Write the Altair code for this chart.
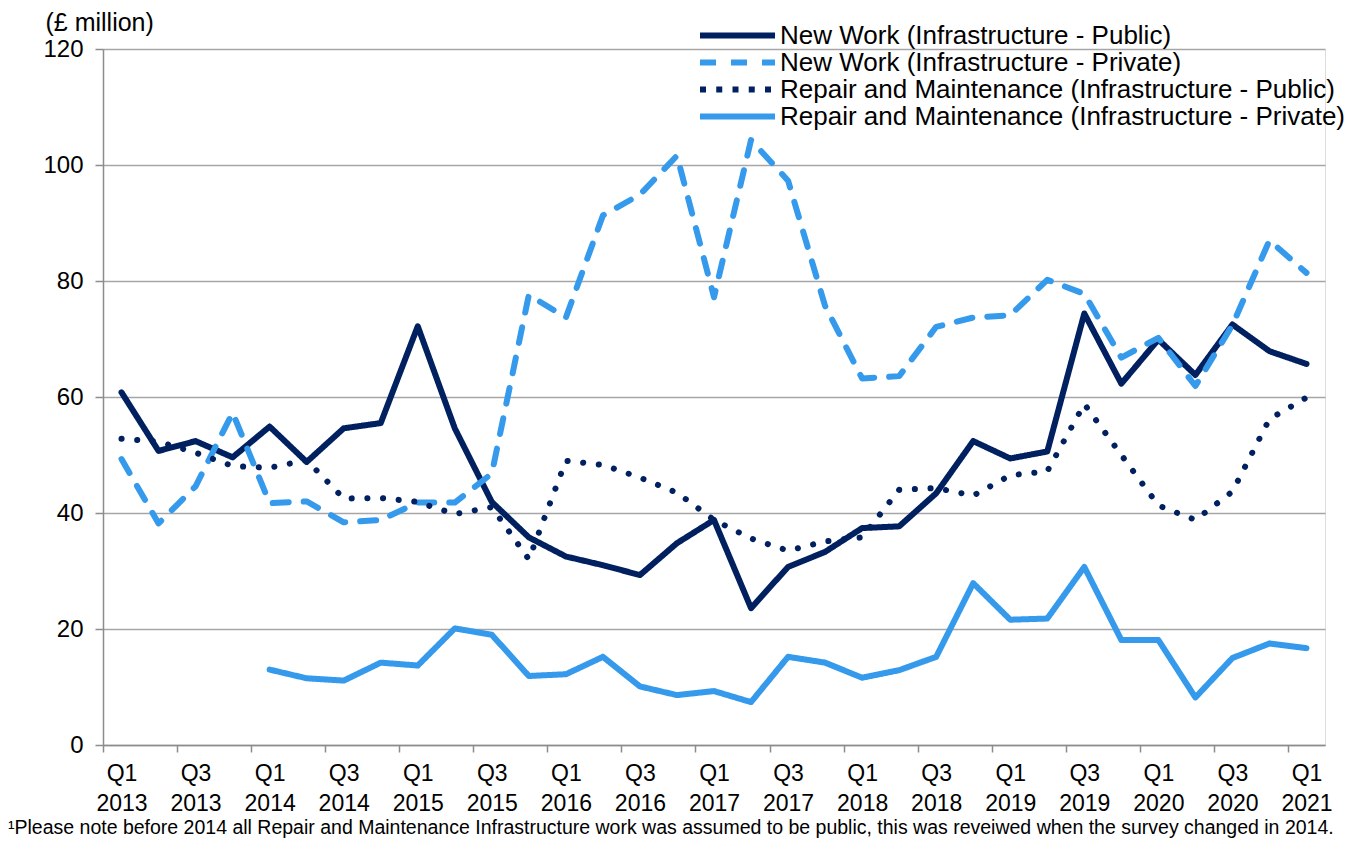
import json
import altair as alt
import pandas as pd

SERIES = [
    "New Work (Infrastructure - Public)",
    "New Work (Infrastructure - Private)",
    "Repair and Maintenance (Infrastructure - Public)",
    "Repair and Maintenance (Infrastructure - Private)",
]
COLORS = ["#002060", "#359AEC", "#002060", "#359AEC"]
# dash patterns used by the legend symbols (the dotted series is drawn in its own layer)
LEGEND_DASHES = [[1, 0], [17, 12], [6, 10.25], [1, 0]]
PLOT_DASH_NW_PRIVATE = [16, 15]
PLOT_DASH_DOTTED = [0.1, 15.6]

# Q1 2013 ... Q1 2021 (33 quarters)
NW_PUBLIC = [60.8, 50.7, 52.4, 49.6, 54.9, 48.8, 54.6, 55.5, 72.2, 54.6,
             41.9, 35.8, 32.5, 31.0, 29.3, 34.8, 38.8, 23.6, 30.7, 33.3,
             37.4, 37.7, 43.4, 52.4, 49.4, 50.6, 74.4, 62.3, 69.9, 63.8,
             72.5, 67.9, 65.7]
NW_PRIVATE = [49.3, 38.2, 44.6, 57.3, 41.7, 42.0, 38.4, 38.8, 41.8, 41.8,
              46.8, 77.6, 73.7, 91.3, 94.9, 101.6, 77.2, 104.3, 97.3, 75.7,
              63.2, 63.6, 72.1, 73.7, 74.1, 80.2, 77.8, 66.8, 70.2, 61.9,
              72.4, 87.0, 81.4]
RM_PUBLIC = [52.8, 52.3, 50.4, 48.1, 47.8, 49.1, 42.5, 42.6, 41.9, 39.8,
             41.0, 32.0, 49.0, 48.3, 46.1, 43.5, 38.8, 35.6, 33.5, 35.1,
             35.8, 44.0, 44.3, 43.0, 46.5, 47.2, 58.8, 50.0, 41.3, 38.8,
             43.7, 56.2, 59.9]
RM_PRIVATE = [None, None, None, None,
              13.0, 11.5, 11.1, 14.2, 13.7, 20.1, 19.0, 11.9, 12.2, 15.2,
              10.1, 8.6, 9.3, 7.4, 15.2, 14.2, 11.6, 12.9, 15.2, 27.9,
              21.6, 21.8, 30.7, 18.1, 18.1, 8.2, 15.0, 17.5, 16.7]

TICK_LABELS = [["Q1", "2013"], ["Q3", "2013"], ["Q1", "2014"], ["Q3", "2014"],
               ["Q1", "2015"], ["Q3", "2015"], ["Q1", "2016"], ["Q3", "2016"],
               ["Q1", "2017"], ["Q3", "2017"], ["Q1", "2018"], ["Q3", "2018"],
               ["Q1", "2019"], ["Q3", "2019"], ["Q1", "2020"], ["Q3", "2020"],
               ["Q1", "2021"]]
Y_TICKS = [0, 20, 40, 60, 80, 100, 120]
Y_TITLE = "(£ million)"
FOOTNOTE = ("¹Please note before 2014 all Repair and Maintenance Infrastructure work "
            "was assumed to be public, this was reveiwed when the survey changed in 2014.")

FONT = "Liberation Sans"
W, H = 1222, 696
GRID = "#A6A6A6"
AXIS = "#8C8C8C"

rows = []
for k, (name, vals) in enumerate(zip(SERIES, [NW_PUBLIC, NW_PRIVATE, RM_PUBLIC, RM_PRIVATE])):
    for i, v in enumerate(vals):
        rows.append({"series": name, "idx": i, "value": v, "k": k})
df = pd.DataFrame(rows)
df_dotted = df[df["series"] == SERIES[2]]
df_main = df[df["series"] != SERIES[2]]

n_q = len(NW_PUBLIC)
edge_ticks = [-0.5 + 2 * j for j in range(len(TICK_LABELS))]
label_expr = json.dumps(TICK_LABELS) + "[round((datum.value + 0.5) / 2)]"

x_enc = alt.X(
    "idx:Q",
    scale=alt.Scale(domain=[-0.5, n_q - 0.5], nice=False, zero=False),
    axis=alt.Axis(
        values=edge_ticks, labelExpr=label_expr, labelOffset=W / n_q / 2,
        grid=False, tickSize=7, tickColor=AXIS, tickWidth=1.5,
        domainColor=AXIS, domainWidth=1.5,
        labelFont=FONT, labelFontSize=23, labelColor="#000000",
        labelLineHeight=30, labelPadding=10, labelOverlap=False,
        labelBound=False, labelFlush=False,
    ),
    title=None,
)
y_enc = alt.Y(
    "value:Q",
    scale=alt.Scale(domain=[0, 120], nice=False),
    axis=alt.Axis(
        values=Y_TICKS, grid=True, gridColor=GRID, gridWidth=1.5,
        tickSize=8, tickColor=AXIS, tickWidth=1.5,
        domainColor=AXIS, domainWidth=1.5,
        labelFont=FONT, labelFontSize=24, labelColor="#000000", labelPadding=12,
        title=Y_TITLE, titleAngle=0, titleX=-58, titleY=-19,
        titleAlign="left", titleBaseline="alphabetic",
        titleFont=FONT, titleFontSize=25, titleFontWeight="normal", titleColor="#000000",
    ),
)

lines = alt.Chart(df_main).mark_line(
    strokeWidth=6, strokeCap="round", strokeJoin="round"
).encode(
    x=x_enc,
    y=y_enc,
    color=alt.Color(
        "series:N",
        scale=alt.Scale(domain=SERIES, range=COLORS),
        legend=alt.Legend(
            title=None, orient="none", legendX=594, legendY=-27,
            symbolType="stroke", symbolSize=5625, symbolStrokeWidth=6,
            labelFont=FONT, labelFontSize=26, labelColor="#000000",
            labelOffset=2, rowPadding=0, clipHeight=27, padding=0,
            labelLimit=800,
        ),
    ),
    strokeDash=alt.StrokeDash(
        "series:N",
        scale=alt.Scale(domain=SERIES, range=[LEGEND_DASHES[0], PLOT_DASH_NW_PRIVATE,
                                              LEGEND_DASHES[2], LEGEND_DASHES[3]]),
        legend=alt.Legend(title=None),
    ),
    detail="series:N",
    order="idx:Q",
)

dotted = alt.Chart(df_dotted).mark_line(
    strokeWidth=6, strokeCap="round", strokeJoin="round",
    strokeDash=PLOT_DASH_DOTTED, color=COLORS[2],
).encode(x=x_enc, y=y_enc, order="idx:Q")

foot = alt.Chart(pd.DataFrame({"t": [FOOTNOTE]})).mark_text(
    align="left", baseline="middle", font=FONT, fontSize=19.5, color="#000000"
).encode(text="t:N", x=alt.value(-95), y=alt.value(H + 83))

chart = alt.layer(lines, dotted, foot).properties(
    width=W, height=H,
    autosize=alt.AutoSizeParams(type="none"),
    padding={"left": 95, "top": 41, "right": 37, "bottom": 96},
).configure_view(stroke=None).configure(background="white")

chart.save("out.html", embed_options={"renderer": "svg", "actions": False})
